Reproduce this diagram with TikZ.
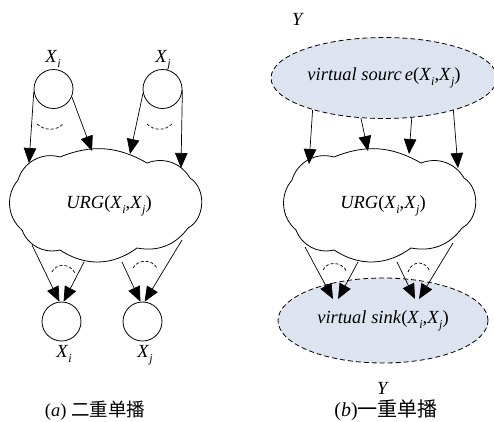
\documentclass[tikz,border=0pt]{standalone}
\usepackage{fontspec}
\setmainfont{Liberation Serif}
\newfontfamily\cjk{Noto Sans CJK SC}
\usetikzlibrary{arrows.meta,shapes.geometric}
\newcommand{\Xv}[1]{\textit{X}\raisebox{-0.28em}{\fontsize{12}{12}\selectfont\textit{#1}}}
\definecolor{vfill}{RGB}{221,228,240}
\tikzset{
  circnode/.style={draw,circle,minimum size=39pt,inner sep=0pt,line width=0.8pt},
  vnode/.style={draw,ellipse,dashed,dash pattern=on 5pt off 3pt,fill=vfill,line width=0.8pt,inner sep=0pt},
  arr/.style={-{Triangle[length=15pt,width=12.5pt]},line width=0.7pt},
  cloudline/.style={line width=0.8pt},
  dsh/.style={dashed,dash pattern=on 3pt off 2pt,line width=0.7pt},
  lbl/.style={inner sep=0pt,anchor=base},
}
\begin{document}
\begin{tikzpicture}[x=1pt,y=-1pt,font=\fontsize{18.5}{20}\selectfont]
\useasboundingbox (0,0) rectangle (494,421);
% ---------- clouds ----------
\foreach \cx/\nm in {107/L,381/R}{
  \begin{scope}[shift={(\cx,205)}]
    \draw[cloudline] (-89,-25) to[bend left=45] (-47,-48) to[bend left=26] (40,-42)
      to[bend left=40] (83,-27) to[bend left=60] (81,23) to[bend left=32] (30,43)
      to[bend left=35] (-47,45) to[bend left=41] (-85,25) to[bend left=45] (-89,-25) -- cycle;
  \end{scope}
}
\node (urgL) at (109,206) {\textit{URG}(\Xv{i},\Xv{j})};
\node (urgR) at (383,206) {\textit{URG}(\Xv{i},\Xv{j})};
% ---------- panel (a) ----------
\node[circnode] (ti) at (53.5,89) {};
\node[circnode] (tj) at (162.5,89) {};
\node[lbl] (lti) at (53,62) {\Xv{i}};
\node[lbl] (ltj) at (163,62) {\Xv{j}};
\node[circnode] (bi) at (61.5,321.5) {};
\node[circnode] (bj) at (142.5,321.5) {};
\node[lbl] (lbi) at (64,357) {\Xv{i}};
\node[lbl] (lbj) at (145,357) {\Xv{j}};
\coordinate (a1) at (29,163);
\coordinate (a2) at (92,151);
\coordinate (a3) at (130,154);
\coordinate (a4) at (181,168);
\draw[arr] (ti.188) -- (a1);
\draw[arr] (ti.337) -- (a2);
\draw[arr] (tj.192) -- (a3);
\draw[arr] (tj.357) -- (a4);
\coordinate (s1) at (32,245);
\coordinate (s2) at (84,262);
\coordinate (s3) at (122,262);
\coordinate (s4) at (182,240);
\draw[arr] (s1) -- (bi.96);
\draw[arr] (s2) -- (bi.84);
\draw[arr] (s3) -- (bj.96);
\draw[arr] (s4) -- (bj.84);
\draw[dsh] (37,124) .. controls (45,131) and (56,131) .. (63,124);
\draw[dsh] (147,124) .. controls (154,131) and (165,131) .. (172,124);
\draw[dsh] (52,272) .. controls (56,263) and (70,263) .. (75,273);
\draw[dsh] (133,268) .. controls (138,259) and (152,259) .. (157,268);
\node[lbl] (capa) at (95,416) {(\textit{a}) {\cjk 二重单播}};
% ---------- panel (b) ----------
\node[vnode,minimum width=226pt,minimum height=81pt] (src) at (384,78) {\textit{virtual sourc\,e}(\Xv{i},\Xv{j})};
\node[lbl] (ytop) at (298,25) {\textit{Y}};
\coordinate (b1) at (309,164);
\coordinate (b2) at (368,151);
\coordinate (b3) at (409,154);
\coordinate (b4) at (458,168);
\draw[arr] (src.204) -- (b1);
\draw[arr] (src.240) -- (b2);
\draw[arr] (src.305) -- (b3);
\draw[arr] (src.335) -- (b4);
\node[vnode,minimum width=210pt,minimum height=85pt] (snk) at (383,320.5) {\textit{virtual sink}(\Xv{i},\Xv{j})};
\coordinate (r1) at (305,247);
\coordinate (r2) at (358,262);
\coordinate (r3) at (397,262);
\coordinate (r4) at (453,243);
\coordinate (t1) at (333,299);
\coordinate (t2) at (338,299);
\coordinate (t3) at (415,299);
\coordinate (t4) at (419,299);
\draw[arr] (r1) -- (t1);
\draw[arr] (r2) -- (t2);
\draw[arr] (r3) -- (t3);
\draw[arr] (r4) -- (t4);
\draw[dsh] (323,270) .. controls (327,261) and (342,261) .. (347,272);
\draw[dsh] (408,272) .. controls (412,260) and (426,260) .. (430,272);
\node[lbl] (ybot) at (383,394) {\textit{Y}};
\node[lbl] (capb) at (386,416) {\fontsize{20}{22}\selectfont(\textit{b}){\cjk 一重单播}};
\end{tikzpicture}
\end{document}
